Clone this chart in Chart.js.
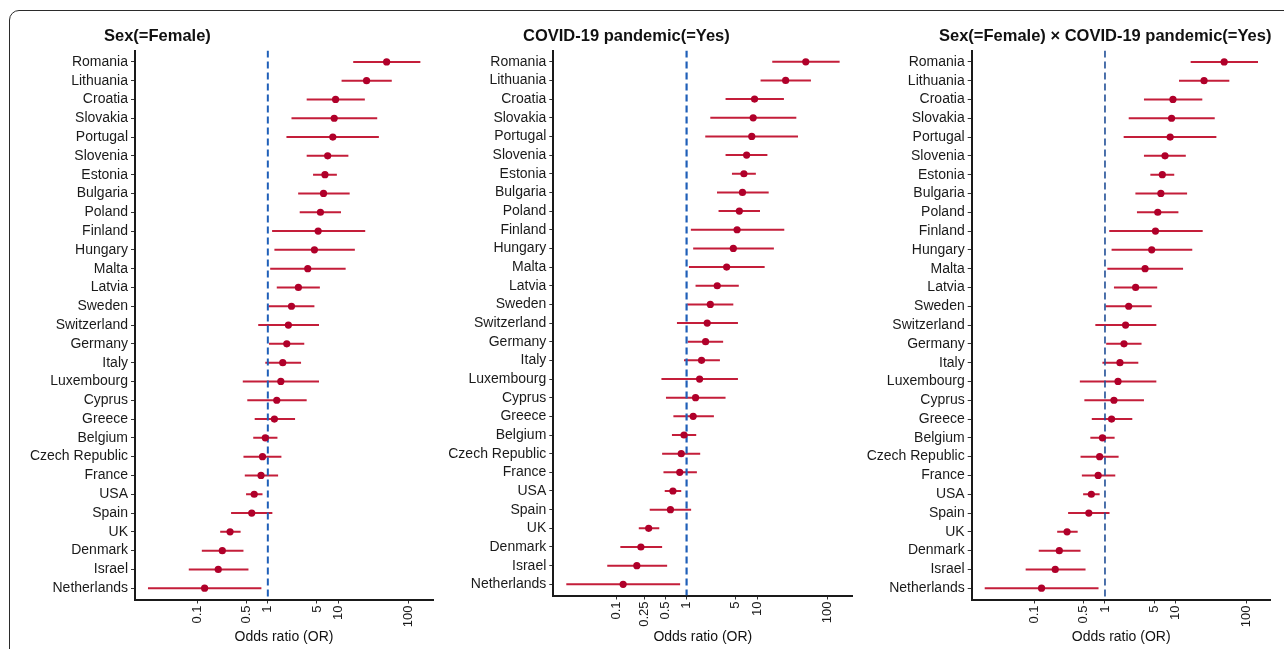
<!DOCTYPE html>
<html>
<head>
<meta charset="utf-8">
<script src="https://cdn.jsdelivr.net/npm/chart.js@4/dist/chart.umd.min.js"></script>
<style>
html,body{margin:0;padding:0;background:#fff;}
body{width:1284px;height:649px;position:relative;overflow:hidden;}
#frame{position:absolute;left:9px;top:10px;width:1320px;height:720px;border:1px solid #2b2b2b;border-top-left-radius:10px;box-sizing:border-box;}
canvas{position:absolute;top:0;}
</style>
</head>
<body>
<div id="frame"></div>
<canvas id="c1" width="430" height="649" style="left:12px"></canvas>
<canvas id="c2" width="418" height="649" style="left:442px"></canvas>
<canvas id="c3" width="424" height="649" style="left:860px"></canvas>
<script>
// ---- data (identical estimates) ----
const countries = ['Romania','Lithuania','Croatia','Slovakia','Portugal','Slovenia','Estonia','Bulgaria','Poland','Finland','Hungary','Malta','Latvia','Sweden','Switzerland','Germany','Italy','Luxembourg','Cyprus','Greece','Belgium','Czech Republic','France','USA','Spain','UK','Denmark','Israel','Netherlands'];
const oddsRatio = [49, 25.4, 9.2, 8.8, 8.4, 7.1, 6.5, 6.2, 5.6, 5.2, 4.6, 3.7, 2.72, 2.17, 1.96, 1.86, 1.63, 1.53, 1.34, 1.24, 0.92, 0.84, 0.80, 0.64, 0.59, 0.29, 0.225, 0.197, 0.126];
const ciLower   = [16.4, 11.2, 3.57, 2.17, 1.84, 3.57, 4.4, 2.7, 2.84, 1.15, 1.24, 1.08, 1.34, 1.02, 0.73, 1.04, 0.92, 0.44, 0.51, 0.65, 0.62, 0.45, 0.47, 0.49, 0.30, 0.21, 0.115, 0.075, 0.0197];
const ciUpper   = [148, 58, 24, 36, 38, 14, 9.6, 14.6, 11, 24.3, 17.3, 12.8, 5.5, 4.6, 5.35, 3.3, 2.97, 5.35, 3.57, 2.44, 1.37, 1.56, 1.40, 0.84, 1.16, 0.41, 0.45, 0.53, 0.81];
const ticksStd   = [0.1, 0.5, 1, 5, 10, 100];
const ticksCovid = [0.1, 0.25, 0.5, 1, 5, 10, 100];
const panelTitles = ['Sex(=Female)', 'COVID-19 pandemic(=Yes)', 'Sex(=Female) \u00d7 COVID-19 pandemic(=Yes)'];
const xAxisTitle = 'Odds ratio (OR)';
const refValue = 1;

const FONT = '"Liberation Sans", Arial, Helvetica, sans-serif';
const POINT_COLOR = '#B0002A';
const LINE_COLOR = '#C41E3A';

function makePanel(cfg) {
  const ciData = [];
  countries.forEach((c, i) => {
    ciData.push({x: ciLower[i], y: i});
    ciData.push({x: ciUpper[i], y: i});
    ciData.push({x: ciUpper[i], y: null});
  });
  const ptData = countries.map((c, i) => ({x: oddsRatio[i], y: i}));
  const refData = [{x: refValue, y: -0.6}, {x: refValue, y: countries.length - 1 + 0.6}];

  const titlePlugin = {
    id: 'panelTitle',
    afterDraw(chart) {
      const ctx = chart.ctx;
      ctx.save();
      ctx.font = 'bold 16.5px ' + FONT;
      ctx.fillStyle = '#111';
      ctx.textBaseline = 'alphabetic';
      ctx.textAlign = 'left';
      ctx.fillText(cfg.title, cfg.titleX - cfg.canvasLeft, 41);
      ctx.restore();
    }
  };

  new Chart(document.getElementById(cfg.id), {
    type: 'scatter',
    data: {
      datasets: [
        {type: 'line', data: ciData, borderColor: LINE_COLOR, borderWidth: 2, pointRadius: 0, spanGaps: false, order: 3, fill: false},
        {type: 'line', data: refData, borderColor: cfg.refColor, borderWidth: cfg.refWidth, borderDash: [7, 4], pointRadius: 0, order: 2, fill: false},
        {type: 'scatter', data: ptData, backgroundColor: POINT_COLOR, borderWidth: 0, pointRadius: 3.6, order: 1}
      ]
    },
    options: {
      responsive: false,
      animation: false,
      devicePixelRatio: 1,
      layout: {padding: {top: 50.6, left: 0, bottom: 0, right: cfg.canvasLeft + cfg.canvasWidth - cfg.plotRight}},
      plugins: {legend: {display: false}, tooltip: {enabled: false}, title: {display: false}},
      scales: {
        x: {
          type: 'logarithmic',
          min: Math.pow(10, -1.89),
          max: Math.pow(10, 2.35),
          afterBuildTicks: s => { s.ticks = cfg.ticks.map(v => ({value: v})); },
          afterFit: s => { s.height = 649 - cfg.plotBottom; },
          ticks: {autoSkip: false, minRotation: 90, maxRotation: 90, padding: 2, color: '#1a1a1a',
                  font: {family: FONT, size: 13}, callback: v => String(v)},
          grid: {display: true, drawOnChartArea: false, tickLength: 4, color: '#333', lineWidth: 1},
          border: {display: true, color: '#1a1a1a', width: 2},
          title: {display: true, text: xAxisTitle, color: '#111', font: {family: FONT, size: 14}, padding: {top: 0, bottom: 3}}
        },
        y: {
          type: 'linear',
          min: -0.6,
          max: countries.length - 1 + 0.6,
          reverse: true,
          afterBuildTicks: s => { s.ticks = countries.map((c, i) => ({value: i})); },
          afterFit: s => { s.width = cfg.plotLeft - cfg.canvasLeft; },
          ticks: {autoSkip: false, padding: 3, color: '#1a1a1a', font: {family: FONT, size: 14},
                  callback: v => countries[v]},
          grid: {display: true, drawOnChartArea: false, tickLength: 4, color: '#333', lineWidth: 1},
          border: {display: true, color: '#1a1a1a', width: 2}
        }
      }
    },
    plugins: [titlePlugin]
  });
}

makePanel({id: 'c1', canvasLeft: 12, canvasWidth: 430, plotLeft: 135, plotRight: 433, plotBottom: 599.5,
           title: panelTitles[0], titleX: 104, ticks: ticksStd, refColor: '#1F5FB8', refWidth: 2});
makePanel({id: 'c2', canvasLeft: 442, canvasWidth: 418, plotLeft: 553.3, plotRight: 852.3, plotBottom: 595.5,
           title: panelTitles[1], titleX: 523, ticks: ticksCovid, refColor: '#1F5FB8', refWidth: 2.2});
makePanel({id: 'c3', canvasLeft: 860, canvasWidth: 424, plotLeft: 971.7, plotRight: 1270.7, plotBottom: 599.5,
           title: panelTitles[2], titleX: 939, ticks: ticksStd, refColor: '#1F4E96', refWidth: 1.6});
</script>
</body>
</html>
